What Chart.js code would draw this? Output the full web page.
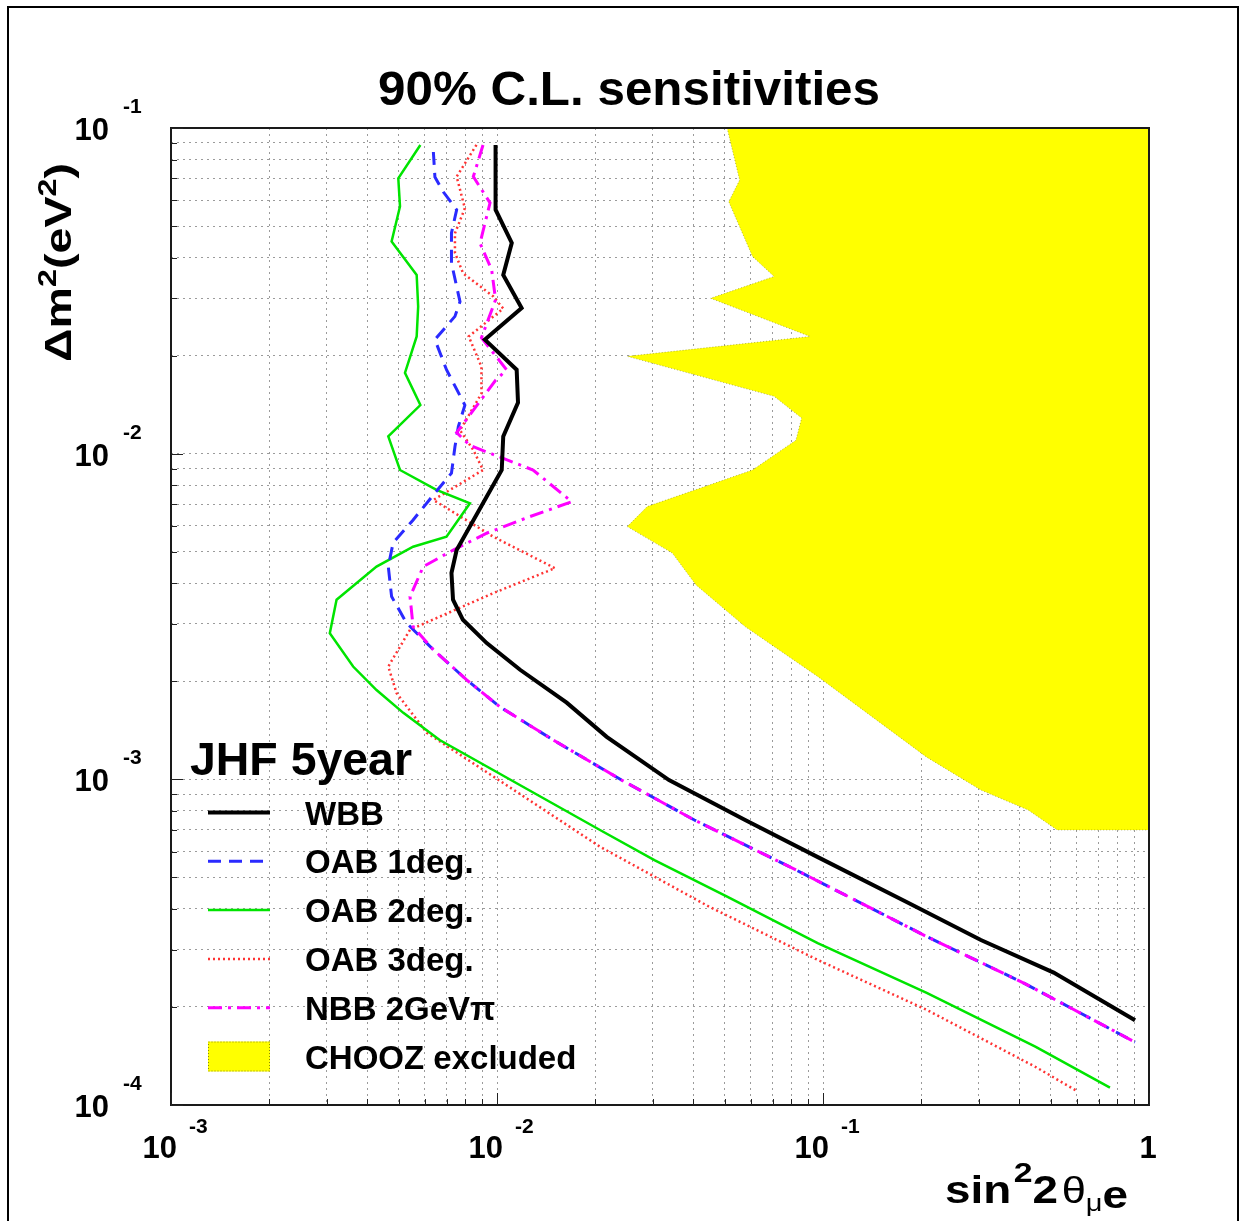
<!DOCTYPE html>
<html><head><meta charset="utf-8">
<script src="https://cdn.jsdelivr.net/npm/chart.js@4/dist/chart.umd.min.js"></script>
<style>html,body{margin:0;padding:0;background:#fff}#wrap{width:1244px;height:1221px;position:relative}</style>
</head><body><div id="wrap"><canvas id="c" width="1244" height="1221"></canvas></div>
<script>
// ---------- DATA ----------
const chartTitle = '90% C.L. sensitivities';
const legendHeader = 'JHF 5year';
const seriesNames = ['WBB', 'OAB 1deg.', 'OAB 2deg.', 'OAB 3deg.', 'NBB 2GeV\u03C0', 'CHOOZ excluded'];

// WBB (black solid)
const wbbSin = [0.0099,0.0099,0.0111,0.01045,0.0119,0.00918,0.01149,0.0116,0.01045,0.01034,0.00752,0.00725,0.00733,0.00786,0.0093,0.01177,0.01636,0.0217,0.0337,0.0577,0.0964,0.183,0.305,0.51,0.906];
const wbbDm2 = [0.0887,0.0561,0.0444,0.0354,0.0280,0.0224,0.0181,0.01435,0.0113,0.00891,0.00506,0.0043,0.00356,0.00309,0.00262,0.00217,0.00172,0.00135,0.000995,0.00075,0.000577,0.000417,0.000321,0.000255,0.000182];

// OAB 1deg (blue dashed)
const oab1Sin = [0.00638,0.00645,0.00684,0.00752,0.00725,0.00725,0.0077,0.00743,0.00645,0.0070,0.00797,0.00761,0.00743,0.00725,0.00638,0.00553,0.0048,0.00464,0.00475,0.00528,0.00638,0.00807,0.0102,0.01489,0.0241,0.0403,0.0826,0.208,0.416,0.906];
const oab1Dm2 = [0.0844,0.0707,0.0637,0.0561,0.0476,0.0385,0.0293,0.0264,0.0224,0.0181,0.0141,0.0121,0.0105,0.00871,0.00747,0.00626,0.00532,0.0045,0.00364,0.00302,0.0025,0.00202,0.00167,0.00132,0.000995,0.00075,0.000527,0.000329,0.000236,0.000156];

// OAB 2deg (green solid)
const oab2Sin = [0.00582,0.00498,0.00504,0.00475,0.00567,0.00573,0.00567,0.00522,0.00582,0.00464,0.00504,0.00652,0.00826,0.0070,0.00553,0.00427,0.00322,0.00307,0.00362,0.00427,0.00516,0.00667,0.0207,0.0304,0.0508,0.0963,0.208,0.448,0.759];
const oab2Dm2 = [0.0887,0.0701,0.0574,0.0448,0.0354,0.0283,0.0229,0.0177,0.0141,0.0113,0.00891,0.00774,0.00704,0.00556,0.00518,0.0045,0.00356,0.00281,0.00222,0.00188,0.0016,0.00132,0.000699,0.000565,0.000436,0.000314,0.000221,0.000151,0.000113];

// OAB 3deg (red dotted)
const oab3Sin = [0.00865,0.00752,0.00797,0.00743,0.00743,0.00787,0.00974,0.01045,0.00819,0.00896,0.00896,0.0077,0.00846,0.00906,0.00638,0.00974,0.01506,0.00974,0.00541,0.00464,0.00492,0.00609,0.0207,0.0446,0.0963,0.208,0.448,0.596];
const oab3Dm2 = [0.0887,0.0709,0.0567,0.0475,0.0414,0.0358,0.0304,0.0279,0.0229,0.0185,0.0153,0.0118,0.01026,0.00891,0.00721,0.00556,0.00445,0.00373,0.00288,0.00222,0.00184,0.00139,0.000621,0.000407,0.000279,0.000196,0.000131,0.000111];

// NBB 2GeV pi (magenta dash-dot)
const nbbSin = [0.00906,0.00846,0.00952,0.00887,0.00963,0.0099,0.00896,0.0107,0.0099,0.00752,0.00826,0.0129,0.01695,0.01263,0.0093,0.00734,0.00594,0.00541,0.00553,0.00638,0.00807,0.0102,0.01489,0.0241,0.0403,0.0826,0.208,0.416,0.906];
const nbbDm2 = [0.0887,0.0709,0.0589,0.0443,0.0367,0.0297,0.0227,0.0181,0.0168,0.0116,0.0106,0.00891,0.00712,0.00641,0.0057,0.00506,0.0045,0.00364,0.00294,0.0025,0.00202,0.00167,0.00132,0.000995,0.00075,0.000527,0.000329,0.000236,0.000156];

// CHOOZ excluded region outline (closed shape)
const choozSin = [0.0508,0.0555,0.0514,0.0608,0.0708,0.0452,0.0913,0.0251,0.0708,0.086,0.0826,0.0608,0.0289,0.0251,0.0345,0.0408,0.0578,0.0963,0.208,0.305,0.426,0.523,1,1];
const choozDm2 = [0.1,0.0692,0.0594,0.0403,0.035,0.030,0.0229,0.0199,0.015,0.01286,0.0110,0.00891,0.00688,0.00597,0.00495,0.00395,0.00294,0.00207,0.00117,0.000927,0.000805,0.000699,0.000699,0.1];

// axes
const xMajorTicks = [0.001, 0.01, 0.1, 1];
const xTickBase = ['10', '10', '10', '1'];
const xTickExp = ['-3', '-2', '-1', ''];
const yMajorTicks = [0.0001, 0.001, 0.01, 0.1];
const yTickBase = ['10', '10', '10', '10'];
const yTickExp = ['-4', '-3', '-2', '-1'];
const minorMantissas = [1, 2, 3, 4, 5, 6, 7, 8, 9];

// ---------- BUILD ----------
const pts = (xs, ys) => xs.map((x, i) => ({x: x, y: ys[i]}));
function allTicks(majors) {
  const out = [];
  majors.forEach((m, i) => {
    if (i === majors.length - 1) { out.push(m); return; }
    minorMantissas.forEach(k => out.push(k * m));
  });
  return out;
}
const xTicks = allTicks(xMajorTicks);
const yTicks = allTicks(yMajorTicks);

const FONT = '"Liberation Sans", Arial, Helvetica, sans-serif';

const datasets = [
  {label: seriesNames[0], data: pts(wbbSin, wbbDm2), borderColor: '#000000', borderWidth: 4, borderDash: [], order: 1},
  {label: seriesNames[1], data: pts(oab1Sin, oab1Dm2), borderColor: '#2a2aff', borderWidth: 3, borderDash: [13, 8], order: 3},
  {label: seriesNames[2], data: pts(oab2Sin, oab2Dm2), borderColor: '#00e400', borderWidth: 2.5, borderDash: [], order: 4},
  {label: seriesNames[3], data: pts(oab3Sin, oab3Dm2), borderColor: '#ff3333', borderWidth: 2.5, borderDash: [2, 3], order: 5},
  {label: seriesNames[4], data: pts(nbbSin, nbbDm2), borderColor: '#ff00ff', borderWidth: 3, borderDash: [14, 6, 3, 6], order: 2},
  {label: seriesNames[5], data: pts(choozSin, choozDm2), borderColor: 'rgba(90,90,0,0.45)', borderWidth: 1, borderDash: [1, 2], backgroundColor: '#ffff00', fill: 'shape', order: 10}
].map(d => Object.assign({showLine: true, pointRadius: 0, pointHoverRadius: 0, tension: 0, fill: false}, d));

function drawPieces(ctx, pieces, x0, y0, targetW) {
  let W = 0;
  pieces.forEach(p => { ctx.font = p[1]; W += ctx.measureText(p[0]).width + (p[3] || 0); });
  const sx = targetW ? targetW / W : 1;
  ctx.save();
  ctx.translate(x0, y0);
  ctx.scale(sx, 1);
  ctx.textAlign = 'left';
  ctx.textBaseline = 'alphabetic';
  let x = 0;
  pieces.forEach(p => { ctx.font = p[1]; ctx.fillText(p[0], x, p[2]); x += ctx.measureText(p[0]).width + (p[3] || 0); });
  ctx.restore();
}

const decor = {
  id: 'decor',
  beforeDraw(chart) {
    const ctx = chart.ctx;
    ctx.save();
    ctx.fillStyle = '#ffffff';
    ctx.fillRect(0, 0, chart.width, chart.height);
    ctx.restore();
  },
  afterDraw(chart) {
    const ctx = chart.ctx;
    const a = chart.chartArea;
    const xs = chart.scales.x, ys = chart.scales.y;
    ctx.save();
    // outer frame
    ctx.strokeStyle = '#000';
    ctx.lineWidth = 2;
    ctx.strokeRect(8, 7, 1230, 1240);
    // plot frame
    ctx.strokeStyle = '#1a1a1a';
    ctx.lineWidth = 2;
    ctx.strokeRect(a.left, a.top, a.right - a.left, a.bottom - a.top);
    // tick marks
    ctx.lineWidth = 1;
    ctx.strokeStyle = '#222';
    xTicks.forEach(v => {
      const px = Math.round(xs.getPixelForValue(v)) + 0.5;
      const len = xMajorTicks.includes(v) ? 12 : 6;
      ctx.beginPath(); ctx.moveTo(px, a.bottom); ctx.lineTo(px, a.bottom - len); ctx.stroke();
    });
    yTicks.forEach(v => {
      const py = Math.round(ys.getPixelForValue(v)) + 0.5;
      const len = yMajorTicks.includes(v) ? 12 : 6;
      ctx.beginPath(); ctx.moveTo(a.left, py); ctx.lineTo(a.left + len, py); ctx.stroke();
    });
    ctx.fillStyle = '#000';
    // title
    drawPieces(ctx, [[chartTitle, 'bold 49px ' + FONT, 0]], 378, 105, 502);
    // x tick labels
    xMajorTicks.forEach((v, i) => {
      const px = xs.getPixelForValue(v);
      if (xTickExp[i]) {
        ctx.font = 'bold 31px ' + FONT; ctx.textAlign = 'right';
        ctx.fillText(xTickBase[i], px + 6, a.bottom + 53);
        ctx.font = 'bold 21px ' + FONT; ctx.textAlign = 'left';
        ctx.fillText(xTickExp[i], px + 18, a.bottom + 28);
      } else {
        ctx.font = 'bold 31px ' + FONT; ctx.textAlign = 'center';
        ctx.fillText(xTickBase[i], px - 1, a.bottom + 53);
      }
    });
    // y tick labels
    yMajorTicks.forEach((v, i) => {
      const py = ys.getPixelForValue(v);
      ctx.font = 'bold 31px ' + FONT; ctx.textAlign = 'right';
      ctx.fillText(yTickBase[i], 109, py + 12);
      ctx.font = 'bold 21px ' + FONT; ctx.textAlign = 'left';
      ctx.fillText(yTickExp[i], 123, py - 15);
    });
    // y title (rotated)
    ctx.save();
    ctx.translate(71, 362);
    ctx.rotate(-Math.PI / 2);
    drawPieces(ctx, [['\u0394m', 'bold 36px ' + FONT, 0], ['2', 'bold 25px ' + FONT, -15], ['(eV', 'bold 36px ' + FONT, 0], ['2', 'bold 25px ' + FONT, -15], [')', 'bold 36px ' + FONT, 0]], 0, 0, 199);
    ctx.restore();
    // x title
    drawPieces(ctx, [['sin', 'bold 38px ' + FONT, 0, 2], ['2', 'bold 28px ' + FONT, -21], ['2', 'bold 38px ' + FONT, 0, 3], ['\u03B8', '36px ' + FONT, 0], ['\u03BC', '24px ' + FONT, 8], ['e', 'bold 38px ' + FONT, 5]], 945, 1203, 183);
    // legend
    ctx.textAlign = 'left';
    drawPieces(ctx, [[legendHeader, 'bold 46px ' + FONT, 0]], 190, 775, 222);
    const ds = chart.data.datasets;
    const y0 = 812.5, dy = 48.8;
    ds.forEach((d, i) => {
      const y = y0 + i * dy;
      if (d.fill === 'shape') {
        ctx.fillStyle = d.backgroundColor;
        ctx.fillRect(208, y - 15, 62, 30);
        ctx.setLineDash([1, 2]);
        ctx.strokeStyle = 'rgba(90,90,0,0.7)';
        ctx.lineWidth = 1;
        ctx.strokeRect(208.5, y - 14.5, 61, 29);
        ctx.setLineDash([]);
      } else {
        ctx.strokeStyle = d.borderColor;
        ctx.lineWidth = d.borderWidth;
        ctx.setLineDash(d.borderDash || []);
        ctx.beginPath(); ctx.moveTo(208, y); ctx.lineTo(270, y); ctx.stroke();
        ctx.setLineDash([]);
      }
      ctx.fillStyle = '#000';
      ctx.font = 'bold 33px ' + FONT;
      ctx.fillText(d.label, 305, y + 12);
    });
    ctx.restore();
  }
};

new Chart(document.getElementById('c'), {
  type: 'scatter',
  data: {datasets: datasets},
  options: {
    responsive: false,
    animation: false,
    devicePixelRatio: 1,
    layout: {padding: {left: 171, top: 128, right: 95, bottom: 116}},
    plugins: {legend: {display: false}, tooltip: {enabled: false}, title: {display: false}},
    scales: {
      x: {
        type: 'logarithmic', min: 0.001, max: 1,
        afterBuildTicks: s => { s.ticks = xTicks.map(v => ({value: v})); },
        ticks: {display: false},
        grid: {color: 'rgba(130,130,130,0.8)', lineWidth: 1, drawTicks: false},
        border: {display: false, dash: [2, 4]}
      },
      y: {
        type: 'logarithmic', min: 0.0001, max: 0.1,
        afterBuildTicks: s => { s.ticks = yTicks.map(v => ({value: v})); },
        ticks: {display: false},
        grid: {color: 'rgba(130,130,130,0.8)', lineWidth: 1, drawTicks: false},
        border: {display: false, dash: [2, 4]}
      }
    }
  },
  plugins: [decor]
});
</script>
</body></html>
